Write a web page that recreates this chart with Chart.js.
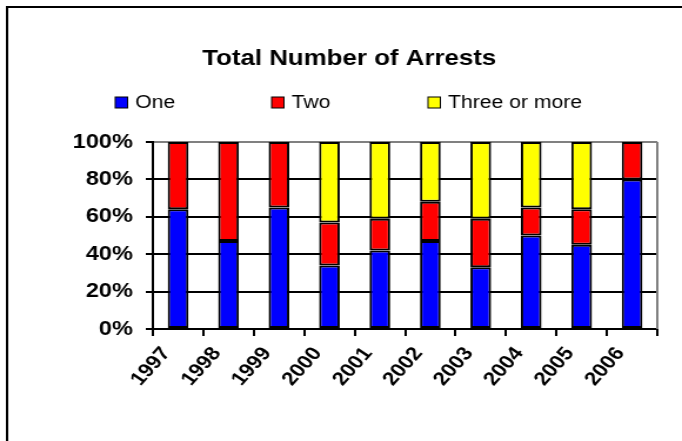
<!DOCTYPE html>
<html>
<head>
<meta charset="utf-8">
<script src="https://cdn.jsdelivr.net/npm/chart.js@4/dist/chart.umd.min.js"></script>
<style>
  html, body { margin: 0; padding: 0; background: #fff; overflow: hidden; }
  #wrap { width: 580px; height: 441px; transform: scaleX(1.17586); transform-origin: 0 0; }
</style>
</head>
<body>
<div id="wrap"><canvas id="arrests" width="580" height="441"></canvas></div>
<script>
var years = ['1997', '1998', '1999', '2000', '2001', '2002', '2003', '2004', '2005', '2006'];
var one   = [64, 47, 65, 34, 42, 47, 33, 50, 45, 80];
var two   = [36, 53, 35, 23, 17, 21, 26, 15, 19, 20];
var three = [0, 0, 0, 43, 41, 32, 41, 35, 36, 0];
var titleText = 'Total Number of Arrests';

Chart.defaults.font.family = "'Liberation Sans', Arial, sans-serif";
Chart.defaults.color = '#000';

// frame, title, legend and the grey plot border, drawn like the Excel original
var excelLook = {
    id: 'excelLook',
    beforeDraw: function(chart){
        var ctx = chart.ctx;
        ctx.save();
        ctx.strokeStyle = '#000';
        ctx.lineWidth = 2;
        ctx.beginPath();
        ctx.moveTo(6, 441);
        ctx.lineTo(6, 7);
        ctx.lineTo(580, 7);
        ctx.stroke();

        ctx.fillStyle = '#000';
        ctx.font = "bold 22px 'Liberation Sans', Arial, sans-serif";
        ctx.textAlign = 'center';
        ctx.textBaseline = 'alphabetic';
        ctx.fillText(titleText, 297, 65);

        ctx.font = "18px 'Liberation Sans', Arial, sans-serif";
        ctx.textAlign = 'left';
        chart.data.datasets.forEach(function(ds, i){
            var x = 98 + i * 133;
            ctx.fillStyle = ds.backgroundColor;
            ctx.fillRect(x, 97, 10.5, 11);
            ctx.lineWidth = 1;
            ctx.strokeStyle = '#000';
            ctx.strokeRect(x, 97, 10.5, 11);
            ctx.fillStyle = '#000';
            ctx.fillText(ds.label, x + 17, 108);
        });
        ctx.restore();
    },
    beforeDatasetsDraw: function(chart){
        var a = chart.chartArea, ctx = chart.ctx;
        ctx.save();
        ctx.strokeStyle = '#808080';
        ctx.lineWidth = 2;
        ctx.beginPath();
        ctx.moveTo(a.right, a.top);
        ctx.lineTo(a.right, a.bottom);
        ctx.stroke();
        ctx.restore();
    }
};

var ctx = document.getElementById('arrests').getContext('2d');
var myChart = new Chart(ctx, {
    type: 'bar',
    data: {
        labels: years,
        datasets: [{
            label: 'One',
            data: one,
            backgroundColor: '#0000FF'
        },
        {
            label: 'Two',
            data: two,
            backgroundColor: '#FF0000'
        },
        {
            label: 'Three or more',
            data: three,
            backgroundColor: '#FFFF00'
        }]
    },
    options: {
        responsive: false,
        animation: false,
        devicePixelRatio: 1,
        layout: {
            padding: { top: 142, right: 21, left: 0, bottom: 0 }
        },
        datasets: {
            bar: {
                borderColor: '#000',
                borderWidth: 2,
                borderSkipped: false,
                categoryPercentage: 1,
                barPercentage: 0.41
            }
        },
        plugins: {
            legend: { display: false },
            title: { display: false },
            tooltip: { enabled: false }
        },
        scales: {
            x: {
                stacked: true,
                afterFit: function(scale){ scale.height = 112; },
                grid: {
                    drawOnChartArea: false,
                    drawTicks: true,
                    tickLength: 7,
                    color: '#000',
                    lineWidth: 2
                },
                border: { color: '#000', width: 2 },
                ticks: {
                    minRotation: 52,
                    maxRotation: 52,
                    labelOffset: -10,
                    padding: 7,
                    color: '#000',
                    font: { size: 19, weight: 'bold' }
                }
            },
            y: {
                stacked: true,
                min: 0,
                max: 100,
                afterFit: function(scale){ scale.width = 130; },
                grid: {
                    color: function(c){ return c.tick && c.tick.value === 100 ? '#808080' : '#000'; },
                    tickColor: '#000',
                    tickLength: 6,
                    lineWidth: 2
                },
                border: { color: '#000', width: 2 },
                ticks: {
                    stepSize: 20,
                    padding: 11,
                    color: '#000',
                    font: { size: 20, weight: 'bold' },
                    callback: function(v){ return v + '%'; }
                }
            }
        }
    },
    plugins: [excelLook]
});
</script>
</body>
</html>
